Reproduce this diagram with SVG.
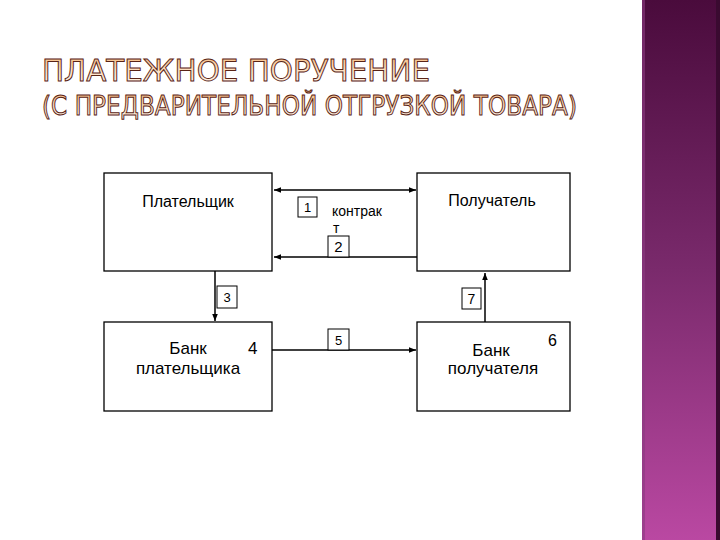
<svg xmlns="http://www.w3.org/2000/svg" width="720" height="540" viewBox="0 0 720 540">
<style>
.box{fill:#fff;stroke:#000;stroke-width:1.3}
.sq{fill:#fff;stroke:#000;stroke-width:1}
.ln{stroke:#000;stroke-width:1.5;fill:none}
.t{font-family:"Liberation Sans",Arial,sans-serif;fill:#000}
.title{font-family:"DejaVu Sans","Noto Sans",sans-serif;fill:url(#tg);stroke:#5a2416;stroke-width:1}
</style>
<defs>
<linearGradient id="bar" x1="0" y1="0" x2="0" y2="1">
<stop offset="0" stop-color="#4a0b3c"/>
<stop offset="0.5" stop-color="#7a2a6c"/>
<stop offset="1" stop-color="#ba48a2"/>
</linearGradient>
<linearGradient id="tg" x1="0" y1="0" x2="0" y2="1">
<stop offset="0" stop-color="#f3b070"/>
<stop offset="0.5" stop-color="#fde0c0"/>
<stop offset="1" stop-color="#fffaf4"/>
</linearGradient>
<marker id="ah" viewBox="0 0 10 10" refX="10" refY="5" markerWidth="7" markerHeight="7" orient="auto-start-reverse" markerUnits="userSpaceOnUse">
<path d="M0,1 L10,5 L0,9 z" fill="#000"/>
</marker>
</defs>
<rect width="720" height="540" fill="#fff"/>
<g id="sidebar">
<rect x="642" y="0" width="76" height="540" fill="url(#bar)"/>
<rect x="642" y="0" width="3" height="540" fill="#8a3a80" opacity="0.6"/>
<rect x="716" y="0" width="4" height="540" fill="#3a0a30"/>
</g>
<g id="title">
<text class="title" x="42" y="81" font-size="31" textLength="388" lengthAdjust="spacingAndGlyphs">ПЛАТЕЖНОЕ ПОРУЧЕНИЕ</text>
<text class="title" x="42" y="115" font-size="26" textLength="535" lengthAdjust="spacingAndGlyphs">(С ПРЕДВАРИТЕЛЬНОЙ ОТГРУЗКОЙ ТОВАРА)</text>
</g>
<g id="connectors">
<line class="ln" x1="274" y1="190" x2="416" y2="190" marker-start="url(#ah)" marker-end="url(#ah)"/>
<line class="ln" x1="417" y1="257" x2="274" y2="257" marker-end="url(#ah)"/>
<line class="ln" x1="215" y1="271" x2="215" y2="321" marker-end="url(#ah)"/>
<line class="ln" x1="272" y1="350" x2="416" y2="350" marker-end="url(#ah)"/>
<line class="ln" x1="485" y1="322" x2="485" y2="273" marker-end="url(#ah)"/>
</g>
<g id="label1"><rect class="sq" x="298" y="197" width="19" height="20"/><text class="t" x="307.5" y="212" font-size="13" text-anchor="middle">1</text></g>
<g id="label-contract"><text class="t" x="332" y="216" font-size="14">контрак</text><text class="t" x="333" y="233" font-size="14">т</text></g>
<g id="label2"><rect class="sq" x="328" y="236" width="21" height="21"/><text class="t" x="338.5" y="252" font-size="15" font-family="Liberation Serif" text-anchor="middle">2</text></g>
<g id="label3"><rect class="sq" x="217" y="286" width="20" height="22"/><text class="t" x="227" y="302" font-size="13" text-anchor="middle">3</text></g>
<g id="label5"><rect class="sq" x="328" y="329" width="21" height="21"/><text class="t" x="338.5" y="345" font-size="13" text-anchor="middle">5</text></g>
<g id="label7"><rect class="sq" x="462" y="288" width="19" height="21"/><text class="t" x="471.5" y="304" font-size="14" text-anchor="middle">7</text></g>
<g id="payer"><rect class="box" x="104" y="173" width="168" height="98"/><text class="t" x="188" y="207" font-size="16" text-anchor="middle">Плательщик</text></g>
<g id="receiver"><rect class="box" x="417" y="173" width="153" height="98"/><text class="t" x="492" y="206" font-size="16" text-anchor="middle">Получатель</text></g>
<g id="payer-bank"><rect class="box" x="104" y="322" width="168" height="89"/><text class="t" x="188" y="354" font-size="17" text-anchor="middle">Банк</text><text class="t" x="188" y="374" font-size="17" text-anchor="middle">плательщика</text><text class="t" x="248" y="354" font-size="17">4</text></g>
<g id="receiver-bank"><rect class="box" x="417" y="322" width="153" height="89"/><text class="t" x="491" y="356" font-size="17" text-anchor="middle">Банк</text><text class="t" x="493" y="374" font-size="17" text-anchor="middle">получателя</text><text class="t" x="548" y="346" font-size="16">6</text></g>
</svg>
